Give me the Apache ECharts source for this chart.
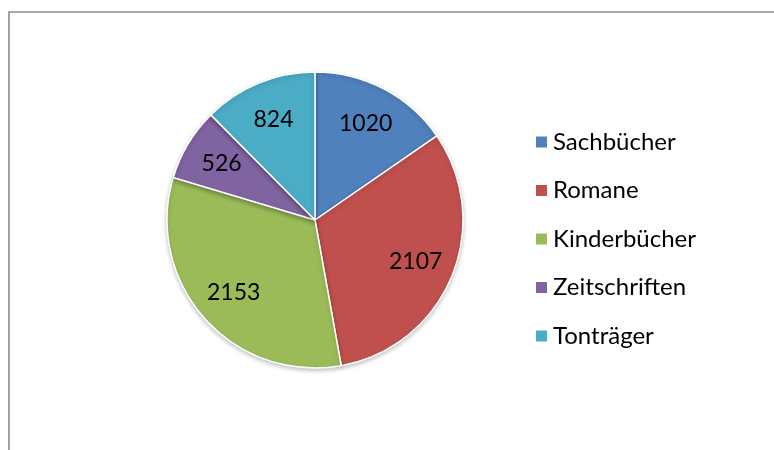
<!DOCTYPE html>
<html>
<head>
<meta charset="utf-8">
<script src="https://cdn.jsdelivr.net/npm/echarts@6/dist/echarts.min.js"></script>
<style>
html,body{margin:0;padding:0;background:#fff;}
#chart{width:774px;height:450px;}
</style>
</head>
<body>
<div id="chart"></div>
<script>
const categories = ['Sachbücher', 'Romane', 'Kinderbücher', 'Zeitschriften', 'Tonträger'];
const values = [1020, 2107, 2153, 526, 824];
const colors = ['#4F81BD', '#C0504D', '#9BBB59', '#8064A2', '#4BACC6'];

const data = categories.map((c, i) => ({ name: c, value: values[i] }));
const FONT = 'Lato';

const chart = echarts.init(document.getElementById('chart'), null, { renderer: 'canvas' });
chart.setOption({
  animation: false,
  backgroundColor: '#ffffff',
  color: colors,
  graphic: [{
    type: 'rect',
    shape: { x: 9, y: 12, width: 820, height: 500 },
    style: { fill: 'none', stroke: '#8a8a8a', lineWidth: 1.6 },
    silent: true
  }],
  legend: {
    orient: 'vertical',
    left: 529,
    top: 125,
    icon: 'rect',
    itemWidth: 13,
    itemHeight: 13,
    itemGap: 24.5,
    data: categories,
    textStyle: { fontFamily: FONT, fontSize: 24, color: '#000', lineHeight: 24, padding: [0, 0, 0, 0] }
  },
  series: [
    {
      type: 'pie',
      center: [315, 220],
      radius: 148,
      startAngle: 90,
      clockwise: true,
      data: data,
      label: { show: false },
      labelLine: { show: false },
      itemStyle: {
        borderColor: '#ffffff',
        borderWidth: 1.5,
        shadowBlur: 4,
        shadowOffsetY: 2,
        shadowColor: 'rgba(0,0,0,0.22)'
      },
      silent: true
    },
    {
      type: 'pie',
      center: [315, 220],
      radius: [64, 148],
      startAngle: 90,
      clockwise: true,
      data: data,
      itemStyle: { color: 'transparent', borderWidth: 0 },
      label: {
        show: true,
        position: 'inside',
        formatter: '{c}',
        fontFamily: FONT,
        fontSize: 23,
        color: '#000'
      },
      labelLine: { show: false },
      silent: true,
      legendHoverLink: false
    }
  ]
});
</script>
</body>
</html>
